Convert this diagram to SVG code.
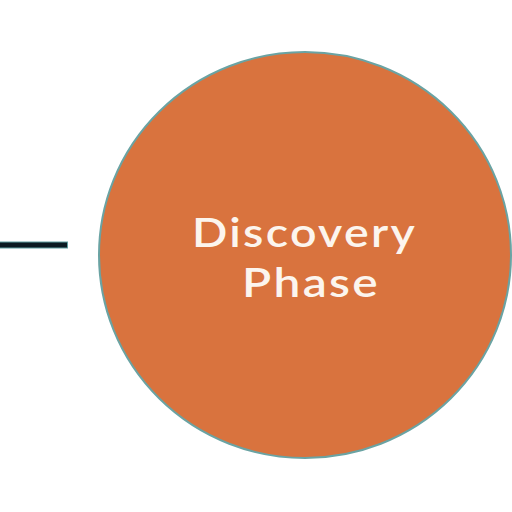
<svg xmlns="http://www.w3.org/2000/svg" width="512" height="512" viewBox="0 0 512 512">
<style>
.conn{stroke:#0b1a22;stroke-width:5;fill:none}
.connEdge{stroke:#5e9ea0;stroke-width:7;fill:none}
.circ{fill:#d9733e;stroke:#6aa3a3;stroke-width:2}
.lbl{font-family:Lato,"Liberation Sans",sans-serif;font-size:41px;font-weight:600;fill:#fcf5ee;text-anchor:middle;letter-spacing:2px}
</style>
<rect width="512" height="512" fill="#ffffff"/>
<g id="connectors">
<line class="connEdge" x1="0" y1="245" x2="68" y2="245"/>
<line class="conn" x1="0" y1="245" x2="67" y2="245"/>
</g>
<g id="discovery-phase">
<ellipse class="circ" cx="305" cy="255" rx="206" ry="203"/>
<text class="lbl" x="304.5" y="247" textLength="225" lengthAdjust="spacingAndGlyphs">Discovery</text>
<text class="lbl" x="311" y="297" textLength="138" lengthAdjust="spacingAndGlyphs">Phase</text>
</g>
</svg>
